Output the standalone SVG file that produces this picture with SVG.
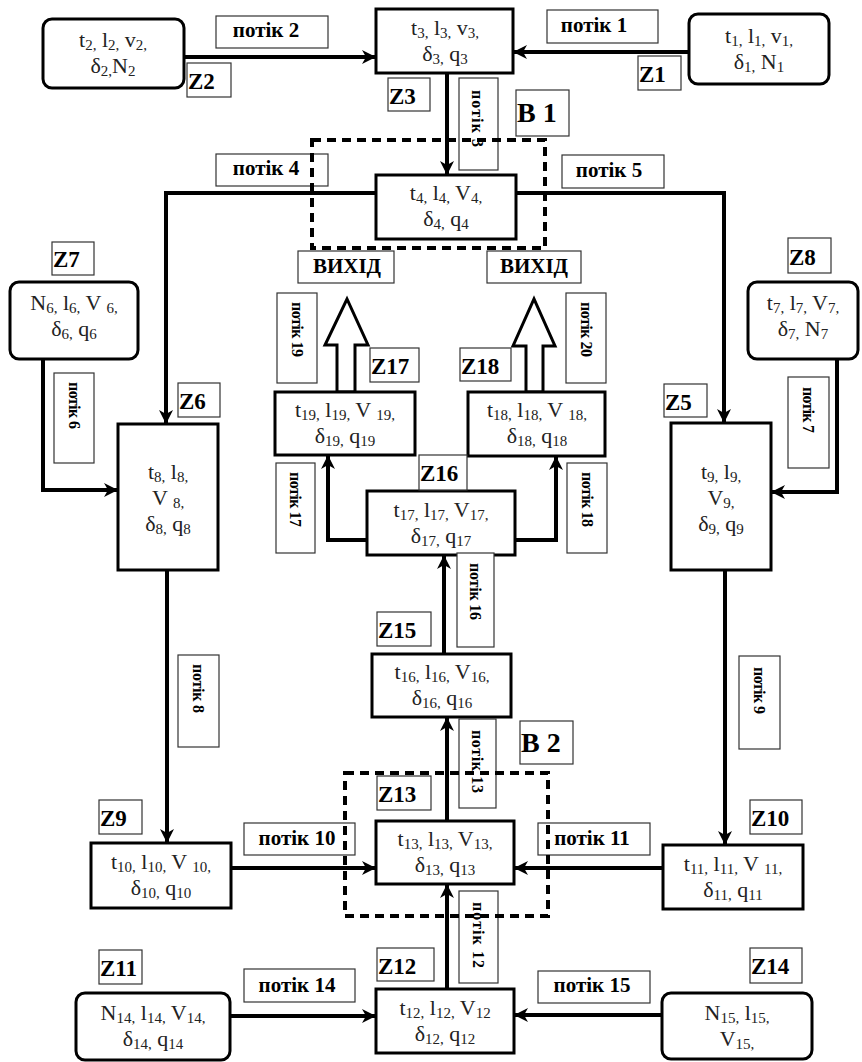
<svg xmlns="http://www.w3.org/2000/svg" width="862" height="1062" viewBox="0 0 862 1062">
<style>
.node{fill:#fff;stroke:#000;stroke-width:3}
.lbl{fill:#fff;stroke:#333;stroke-width:1.2}
.conn{fill:none;stroke:#000;stroke-width:4}
.dash{fill:none;stroke:#000;stroke-width:4;stroke-dasharray:9 6}
.hollow{fill:#fff;stroke:#000;stroke-width:3;stroke-linejoin:miter}
.nt{font-family:"Liberation Serif",serif;font-size:22px;fill:#222;text-anchor:middle}
.s{font-size:15px}
.pl{font-family:"Liberation Serif",serif;font-weight:bold;font-size:21px;fill:#000;text-anchor:middle}
.pv{font-family:"Liberation Serif",serif;font-weight:bold;font-size:16px;fill:#000}
.z{font-family:"Liberation Serif",serif;font-weight:bold;font-size:23px;fill:#000}
.bb{font-family:"Liberation Serif",serif;font-weight:bold;font-size:28px;fill:#000}
</style>
<defs>
<marker id="ah" viewBox="0 0 14 14" markerWidth="14" markerHeight="14" refX="13" refY="7" orient="auto" markerUnits="userSpaceOnUse">
<path d="M0,0 L14,7 L0,14 L4,7 Z" fill="#000"/>
</marker>
</defs>
<rect width="862" height="1062" fill="#fff"/>

<!-- connectors -->
<g id="connectors">
<path class="conn" d="M689,52 H514" marker-end="url(#ah)"/>
<path class="conn" d="M184,57 H375" marker-end="url(#ah)"/>
<path class="conn" d="M447,73 V174" marker-end="url(#ah)"/>
<path class="conn" d="M376,193 H166 V423" marker-end="url(#ah)"/>
<path class="conn" d="M516,193 H724 V422" marker-end="url(#ah)"/>
<path class="conn" d="M43,359 V490 H117" marker-end="url(#ah)"/>
<path class="conn" d="M837,359 V492 H772" marker-end="url(#ah)"/>
<path class="conn" d="M167,570 V842" marker-end="url(#ah)"/>
<path class="conn" d="M725,570 V844" marker-end="url(#ah)"/>
<path class="conn" d="M231,868 H375" marker-end="url(#ah)"/>
<path class="conn" d="M663,868 H515" marker-end="url(#ah)"/>
<path class="conn" d="M447,989 V885" marker-end="url(#ah)"/>
<path class="conn" d="M447,821 V718" marker-end="url(#ah)"/>
<path class="conn" d="M230,1016 H375" marker-end="url(#ah)"/>
<path class="conn" d="M662,1015 H515" marker-end="url(#ah)"/>
<path class="conn" d="M444,654 V556" marker-end="url(#ah)"/>
<path class="conn" d="M367,540 H328 V456" marker-end="url(#ah)"/>
<path class="conn" d="M515,540 H556 V457" marker-end="url(#ah)"/>
<polygon class="hollow" points="337,392 337,345 325,345 347,299 368,345 355,345 355,392"/>
<polygon class="hollow" points="526,392 526,346 513,346 534,299 555,346 543,346 543,392"/>
</g>

<!-- nodes -->
<g id="n1"><rect class="node" x="689" y="14" width="140" height="70" rx="9"/>
<text class="nt" x="759" y="43">t<tspan class="s" dy="3">1,</tspan><tspan dy="-3"> l</tspan><tspan class="s" dy="3">1,</tspan><tspan dy="-3"> v</tspan><tspan class="s" dy="3">1,</tspan><tspan x="759" y="69">δ</tspan><tspan class="s" dy="3">1,</tspan><tspan dy="-3"> N</tspan><tspan class="s" dy="3">1</tspan></text></g>

<g id="n2"><rect class="node" x="43" y="19" width="141" height="69" rx="9"/>
<text class="nt" x="113" y="47">t<tspan class="s" dy="3">2,</tspan><tspan dy="-3"> l</tspan><tspan class="s" dy="3">2,</tspan><tspan dy="-3"> v</tspan><tspan class="s" dy="3">2,</tspan><tspan x="113" y="73">δ</tspan><tspan class="s" dy="3">2,</tspan><tspan dy="-3">N</tspan><tspan class="s" dy="3">2</tspan></text></g>

<g id="n3"><rect class="node" x="376" y="9" width="137" height="64"/>
<text class="nt" x="445" y="35">t<tspan class="s" dy="3">3,</tspan><tspan dy="-3"> l</tspan><tspan class="s" dy="3">3,</tspan><tspan dy="-3"> v</tspan><tspan class="s" dy="3">3,</tspan><tspan x="445" y="61">δ</tspan><tspan class="s" dy="3">3,</tspan><tspan dy="-3"> q</tspan><tspan class="s" dy="3">3</tspan></text></g>

<g id="n4"><rect class="node" x="376" y="175" width="140" height="64"/>
<text class="nt" x="446" y="200">t<tspan class="s" dy="3">4,</tspan><tspan dy="-3"> l</tspan><tspan class="s" dy="3">4,</tspan><tspan dy="-3"> V</tspan><tspan class="s" dy="3">4,</tspan><tspan x="446" y="226">δ</tspan><tspan class="s" dy="3">4,</tspan><tspan dy="-3"> q</tspan><tspan class="s" dy="3">4</tspan></text></g>

<g id="n6"><rect class="node" x="10" y="282" width="128" height="77" rx="9"/>
<text class="nt" x="74" y="310">N<tspan class="s" dy="3">6,</tspan><tspan dy="-3"> l</tspan><tspan class="s" dy="3">6,</tspan><tspan dy="-3"> V </tspan><tspan class="s" dy="3">6,</tspan><tspan x="74" y="336">δ</tspan><tspan class="s" dy="3">6,</tspan><tspan dy="-3"> q</tspan><tspan class="s" dy="3">6</tspan></text></g>

<g id="n7"><rect class="node" x="748" y="282" width="110" height="77" rx="9"/>
<text class="nt" x="803" y="310">t<tspan class="s" dy="3">7,</tspan><tspan dy="-3"> l</tspan><tspan class="s" dy="3">7,</tspan><tspan dy="-3"> V</tspan><tspan class="s" dy="3">7,</tspan><tspan x="803" y="336">δ</tspan><tspan class="s" dy="3">7,</tspan><tspan dy="-3"> N</tspan><tspan class="s" dy="3">7</tspan></text></g>

<g id="n8"><rect class="node" x="118" y="424" width="100" height="146"/>
<text class="nt" x="168" y="479">t<tspan class="s" dy="3">8,</tspan><tspan dy="-3"> l</tspan><tspan class="s" dy="3">8,</tspan><tspan x="168" y="505">V </tspan><tspan class="s" dy="3">8,</tspan><tspan x="168" y="531">δ</tspan><tspan class="s" dy="3">8,</tspan><tspan dy="-3"> q</tspan><tspan class="s" dy="3">8</tspan></text></g>

<g id="n9"><rect class="node" x="671" y="423" width="100" height="147"/>
<text class="nt" x="721" y="479">t<tspan class="s" dy="3">9,</tspan><tspan dy="-3"> l</tspan><tspan class="s" dy="3">9,</tspan><tspan x="721" y="505">V</tspan><tspan class="s" dy="3">9,</tspan><tspan x="721" y="531">δ</tspan><tspan class="s" dy="3">9,</tspan><tspan dy="-3"> q</tspan><tspan class="s" dy="3">9</tspan></text></g>

<g id="n10"><rect class="node" x="91" y="843" width="140" height="65"/>
<text class="nt" x="161" y="869">t<tspan class="s" dy="3">10,</tspan><tspan dy="-3"> l</tspan><tspan class="s" dy="3">10,</tspan><tspan dy="-3"> V </tspan><tspan class="s" dy="3">10,</tspan><tspan x="161" y="895">δ</tspan><tspan class="s" dy="3">10,</tspan><tspan dy="-3"> q</tspan><tspan class="s" dy="3">10</tspan></text></g>

<g id="n11"><rect class="node" x="663" y="845" width="140" height="64"/>
<text class="nt" x="733" y="871">t<tspan class="s" dy="3">11,</tspan><tspan dy="-3"> l</tspan><tspan class="s" dy="3">11,</tspan><tspan dy="-3"> V </tspan><tspan class="s" dy="3">11,</tspan><tspan x="733" y="897">δ</tspan><tspan class="s" dy="3">11,</tspan><tspan dy="-3"> q</tspan><tspan class="s" dy="3">11</tspan></text></g>

<g id="n12"><rect class="node" x="376" y="989" width="138" height="64"/>
<text class="nt" x="445" y="1015">t<tspan class="s" dy="3">12,</tspan><tspan dy="-3"> l</tspan><tspan class="s" dy="3">12,</tspan><tspan dy="-3"> V</tspan><tspan class="s" dy="3">12</tspan><tspan x="445" y="1041">δ</tspan><tspan class="s" dy="3">12,</tspan><tspan dy="-3"> q</tspan><tspan class="s" dy="3">12</tspan></text></g>

<g id="n13"><rect class="node" x="376" y="821" width="138" height="63"/>
<text class="nt" x="445" y="846">t<tspan class="s" dy="3">13,</tspan><tspan dy="-3"> l</tspan><tspan class="s" dy="3">13,</tspan><tspan dy="-3"> V</tspan><tspan class="s" dy="3">13,</tspan><tspan x="445" y="872">δ</tspan><tspan class="s" dy="3">13,</tspan><tspan dy="-3"> q</tspan><tspan class="s" dy="3">13</tspan></text></g>

<g id="n14"><rect class="node" x="76" y="993" width="154" height="67" rx="9"/>
<text class="nt" x="153" y="1020">N<tspan class="s" dy="3">14,</tspan><tspan dy="-3"> l</tspan><tspan class="s" dy="3">14,</tspan><tspan dy="-3"> V</tspan><tspan class="s" dy="3">14,</tspan><tspan x="153" y="1046">δ</tspan><tspan class="s" dy="3">14,</tspan><tspan dy="-3"> q</tspan><tspan class="s" dy="3">14</tspan></text></g>

<g id="n15"><rect class="node" x="662" y="993" width="150" height="66" rx="9"/>
<text class="nt" x="737" y="1020">N<tspan class="s" dy="3">15,</tspan><tspan dy="-3"> l</tspan><tspan class="s" dy="3">15,</tspan><tspan x="737" y="1046">V</tspan><tspan class="s" dy="3">15,</tspan></text></g>

<g id="n16"><rect class="node" x="372" y="654" width="139" height="63"/>
<text class="nt" x="442" y="679">t<tspan class="s" dy="3">16,</tspan><tspan dy="-3"> l</tspan><tspan class="s" dy="3">16,</tspan><tspan dy="-3"> V</tspan><tspan class="s" dy="3">16,</tspan><tspan x="442" y="705">δ</tspan><tspan class="s" dy="3">16,</tspan><tspan dy="-3"> q</tspan><tspan class="s" dy="3">16</tspan></text></g>

<g id="n17"><rect class="node" x="367" y="491" width="148" height="64"/>
<text class="nt" x="441" y="517">t<tspan class="s" dy="3">17,</tspan><tspan dy="-3"> l</tspan><tspan class="s" dy="3">17,</tspan><tspan dy="-3"> V</tspan><tspan class="s" dy="3">17,</tspan><tspan x="441" y="543">δ</tspan><tspan class="s" dy="3">17,</tspan><tspan dy="-3"> q</tspan><tspan class="s" dy="3">17</tspan></text></g>

<g id="n18"><rect class="node" x="468" y="392" width="137" height="64"/>
<text class="nt" x="537" y="417">t<tspan class="s" dy="3">18,</tspan><tspan dy="-3"> l</tspan><tspan class="s" dy="3">18,</tspan><tspan dy="-3"> V </tspan><tspan class="s" dy="3">18,</tspan><tspan x="537" y="443">δ</tspan><tspan class="s" dy="3">18,</tspan><tspan dy="-3"> q</tspan><tspan class="s" dy="3">18</tspan></text></g>

<g id="n19"><rect class="node" x="275" y="392" width="140" height="63"/>
<text class="nt" x="345" y="417">t<tspan class="s" dy="3">19,</tspan><tspan dy="-3"> l</tspan><tspan class="s" dy="3">19,</tspan><tspan dy="-3"> V </tspan><tspan class="s" dy="3">19,</tspan><tspan x="345" y="443">δ</tspan><tspan class="s" dy="3">19,</tspan><tspan dy="-3"> q</tspan><tspan class="s" dy="3">19</tspan></text></g>

<!-- horizontal flow labels -->
<g id="labels">
<rect class="lbl" x="547" y="10" width="111" height="33"/><text class="pl" x="594" y="32">потік 1</text>
<rect class="lbl" x="216" y="16" width="112" height="32"/><text class="pl" x="266" y="37">потік 2</text>
<rect class="lbl" x="216" y="154" width="112" height="32"/><text class="pl" x="266" y="175">потік 4</text>
<rect class="lbl" x="562" y="155" width="102" height="33"/><text class="pl" x="609" y="177">потік 5</text>
<rect class="lbl" x="244" y="823" width="111" height="32"/><text class="pl" x="297" y="845">потік 10</text>
<rect class="lbl" x="538" y="823" width="112" height="32"/><text class="pl" x="592" y="845">потік 11</text>
<rect class="lbl" x="244" y="969" width="111" height="33"/><text class="pl" x="297" y="992">потік 14</text>
<rect class="lbl" x="538" y="971" width="112" height="32"/><text class="pl" x="592" y="992">потік 15</text>
<rect class="lbl" x="298" y="251" width="96" height="32"/><text class="pl" x="347" y="273">ВИХІД</text>
<rect class="lbl" x="487" y="251" width="94" height="32"/><text class="pl" x="534" y="273">ВИХІД</text>

<!-- vertical flow labels -->
<rect class="lbl" x="459" y="78" width="39" height="92"/><text class="pv" transform="translate(477,90) rotate(90)" y="5" textLength="57">потік 3</text>
<rect class="lbl" x="54" y="373" width="40" height="90"/><text class="pv" transform="translate(74,382) rotate(90)" y="5" textLength="47">потік 6</text>
<rect class="lbl" x="788" y="377" width="41" height="91"/><text class="pv" transform="translate(808,387) rotate(90)" y="5" textLength="46">потік 7</text>
<rect class="lbl" x="178" y="655" width="41" height="92"/><text class="pv" transform="translate(198,664) rotate(90)" y="5" textLength="49">потік 8</text>
<rect class="lbl" x="739" y="656" width="41" height="93"/><text class="pv" transform="translate(759,667) rotate(90)" y="5" textLength="47">потік 9</text>
<rect class="lbl" x="277" y="293" width="40" height="90"/><text class="pv" transform="translate(297,302) rotate(90)" y="5" textLength="55">потік 19</text>
<rect class="lbl" x="566" y="293" width="40" height="90"/><text class="pv" transform="translate(586,302) rotate(90)" y="5" textLength="55">потік 20</text>
<rect class="lbl" x="276" y="463" width="39" height="90"/><text class="pv" transform="translate(295,472) rotate(90)" y="5" textLength="55">потік 17</text>
<rect class="lbl" x="567" y="463" width="40" height="90"/><text class="pv" transform="translate(587,472) rotate(90)" y="5" textLength="55">потік 18</text>
<rect class="lbl" x="457" y="553" width="37" height="94"/><text class="pv" transform="translate(475,563) rotate(90)" y="5" textLength="57">потік 16</text>
<rect class="lbl" x="459" y="719" width="37" height="89"/><text class="pv" transform="translate(477,730) rotate(90)" y="5" textLength="63">потік 13</text>
<rect class="lbl" x="459" y="891" width="39" height="92"/><text class="pv" transform="translate(478,902) rotate(90)" y="5" textLength="66">потік 12</text>

<!-- Z labels -->
<rect class="lbl" x="638" y="56" width="43" height="34"/><text class="z" x="639" y="82">Z1</text>
<rect class="lbl" x="187" y="63" width="44" height="34"/><text class="z" x="188" y="89">Z2</text>
<rect class="lbl" x="388" y="78" width="42" height="33"/><text class="z" x="389" y="104">Z3</text>
<rect class="lbl" x="664" y="384" width="43" height="33"/><text class="z" x="665" y="410">Z5</text>
<rect class="lbl" x="178" y="383" width="42" height="34"/><text class="z" x="179" y="409">Z6</text>
<rect class="lbl" x="52" y="242" width="42" height="33"/><text class="z" x="53" y="267">Z7</text>
<rect class="lbl" x="788" y="238" width="43" height="35"/><text class="z" x="789" y="265">Z8</text>
<rect class="lbl" x="99" y="800" width="43" height="34"/><text class="z" x="100" y="826">Z9</text>
<rect class="lbl" x="750" y="800" width="52" height="34"/><text class="z" x="751" y="826">Z10</text>
<rect class="lbl" x="99" y="950" width="43" height="34"/><text class="z" x="100" y="976">Z11</text>
<rect class="lbl" x="377" y="948" width="57" height="33"/><text class="z" x="378" y="974">Z12</text>
<rect class="lbl" x="377" y="776" width="54" height="34"/><text class="z" x="378" y="802">Z13</text>
<rect class="lbl" x="750" y="948" width="52" height="35"/><text class="z" x="751" y="974">Z14</text>
<rect class="lbl" x="377" y="612" width="54" height="34"/><text class="z" x="378" y="638">Z15</text>
<rect class="lbl" x="419" y="455" width="48" height="35"/><text class="z" x="420" y="481">Z16</text>
<rect class="lbl" x="370" y="348" width="49" height="34"/><text class="z" x="371" y="374">Z17</text>
<rect class="lbl" x="460" y="348" width="51" height="33"/><text class="z" x="461" y="374">Z18</text>
<rect class="lbl" x="516" y="90" width="53" height="46"/><text class="bb" x="517" y="122">B 1</text>
<rect class="lbl" x="520" y="721" width="53" height="43"/><text class="bb" x="521" y="752">B 2</text>
</g>

<!-- dashed blocks -->
<g id="B1"><rect class="dash" x="312" y="140" width="233" height="108"/></g>
<g id="B2"><rect class="dash" x="345" y="773" width="203" height="143"/></g>
</svg>
